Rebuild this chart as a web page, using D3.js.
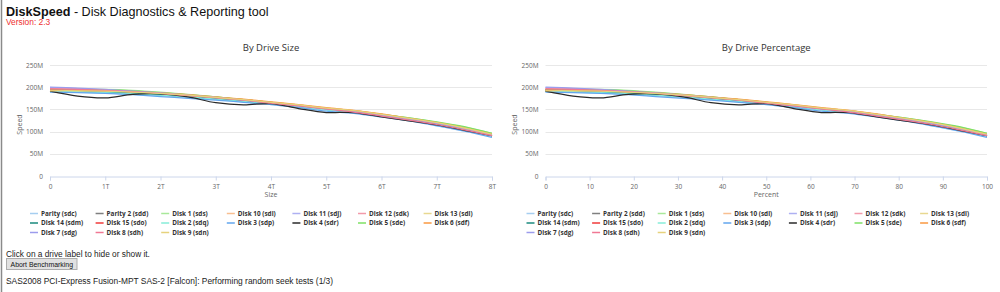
<!DOCTYPE html>
<html>
<head>
<meta charset="utf-8">
<script src="https://cdn.jsdelivr.net/npm/d3@7"></script>
<style>
  html, body { margin: 0; padding: 0; background: #fff; }
  svg { display: block; }
</style>
</head>
<body>
<svg width="1000" height="292"></svg>
<script>
// positions along the drive, in TB (every half terabyte)
const sizes = [0, 0.5, 1, 1.5, 2, 2.5, 3, 3.5, 4, 4.5, 5, 5.5, 6, 6.5, 7, 7.5, 8];
const driveCapacity = 8;

const drives = ["Parity (sdc)", "Parity 2 (sdd)", "Disk 1 (sds)", "Disk 10 (sdi)", "Disk 11 (sdj)", "Disk 12 (sdk)", "Disk 13 (sdl)",
    "Disk 14 (sdm)", "Disk 15 (sdo)", "Disk 2 (sdq)", "Disk 3 (sdp)", "Disk 4 (sdr)", "Disk 5 (sde)", "Disk 6 (sdf)",
    "Disk 7 (sdg)", "Disk 8 (sdh)", "Disk 9 (sdn)"];

const colors = ["#a6cef0", "#7f7f7f", "#a8e89a", "#f8bf90", "#aeb0f2", "#f29aaa", "#e8d890",
    "#1a8a7e", "#f03a3a", "#86ecd8", "#62a6ee", "#2a2a2a", "#7ee064", "#fa9840",
    "#9c9cec", "#f07894", "#e6d27c"];

// speeds in MB/s, one array per drive
const parity   = [190, 189, 187, 184, 181, 177, 173, 168, 162, 156, 150, 144, 136, 127, 116, 104, 90];
const parity2  = [193, 192, 190, 187, 184, 180, 175, 170, 164, 158, 151, 145, 137, 128, 117, 105, 91];
const disk1    = [194, 195, 195, 193, 189, 184, 178, 172, 166, 159, 152, 146, 139, 131, 121, 110, 96];
const disk10   = [192, 192, 191, 189, 186, 182, 177, 172, 166, 160, 153, 147, 139, 130, 120, 108, 94];
const disk11   = [199, 197, 194, 190, 186, 181, 176, 171, 165, 158, 151, 145, 137, 128, 118, 106, 92];
const disk12   = [196, 195, 193, 190, 186, 181, 176, 171, 165, 159, 152, 146, 137, 128, 118, 106, 92];
const disk13   = [193, 193, 192, 190, 187, 182, 177, 172, 166, 160, 153, 147, 139, 130, 120, 108, 94];
const disk14   = [192, 191, 189, 186, 183, 179, 174, 169, 163, 157, 150, 144, 136, 127, 117, 105, 91];
const disk15   = [195, 194, 193, 190, 186, 182, 177, 172, 165, 158, 151, 145, 136, 126, 116, 104, 91];
const disk2    = [191, 190, 188, 185, 182, 178, 173, 168, 162, 156, 149, 143, 135, 126, 116, 104, 90];
const disk3    = [189, 188, 186, 183, 179, 175, 171, 166, 161, 154, 146, 141, 133, 124, 113, 101, 87];
const disk4    = [191, 180, 176, 184, 185, 178, 165, 160, 163, 152, 143, 143, 133, 124, 115, 103, 91];
const disk5    = [194, 194, 194, 192, 188, 183, 178, 172, 166, 159, 152, 146, 139, 131, 122, 111, 96];
const disk6    = [193, 193, 192, 190, 187, 183, 178, 173, 167, 161, 154, 148, 140, 130, 120, 108, 94];
const disk7    = [200, 198, 195, 191, 187, 182, 177, 171, 165, 158, 151, 145, 137, 128, 118, 106, 92];
const disk8    = [196, 195, 193, 190, 186, 181, 176, 171, 164, 158, 151, 144, 135, 126, 116, 104, 91];
const disk9    = [192, 192, 191, 189, 186, 182, 177, 172, 166, 160, 153, 147, 139, 130, 120, 108, 94];

const speeds = [parity, parity2, disk1, disk10, disk11, disk12, disk13, disk14, disk15,
    disk2, disk3, disk4, disk5, disk6, disk7, disk8, disk9];

const speedTicks = [0, 50, 100, 150, 200, 250];
const sizeTicks = [0, 1, 2, 3, 4, 5, 6, 7, 8];
const percentTicks = [0, 10, 20, 30, 40, 50, 60, 70, 80, 90, 100];

const svg = d3.select("svg");
const chartFont = "'Open Sans', 'DejaVu Sans', sans-serif";
const pageFont = "'Liberation Sans', Arial, sans-serif";

// left page border
svg.append("line")
    .attr("x1", 1.5).attr("x2", 1.5).attr("y1", 0).attr("y2", 292)
    .attr("stroke", "#8a8a8a").attr("stroke-width", 1.5);

// page header
const head = svg.append("text")
    .attr("x", 6).attr("y", 15.5)
    .style("font", `12.6px ${pageFont}`)
    .attr("fill", "#111");
head.append("tspan").attr("font-weight", "bold").text("DiskSpeed");
head.append("tspan").text(" - Disk Diagnostics & Reporting tool");

svg.append("text")
    .attr("x", 6).attr("y", 25)
    .style("font", `8.4px ${pageFont}`)
    .attr("fill", "#ee3030")
    .text("Version: 2.3");

// one chart panel
const drawChart = (opts) => {
    const g = svg.append("g");
    const x = d3.scaleLinear().domain(opts.domain).range([opts.left, opts.right]);
    const y = d3.scaleLinear().domain([0, 250]).range([176, 65]);

    g.append("text")
        .attr("x", (opts.left + opts.right) / 2).attr("y", 50.5)
        .attr("text-anchor", "middle")
        .style("font", `9.5px ${chartFont}`)
        .attr("fill", "#333")
        .text(opts.title);

    // grid
    g.append("g")
        .selectAll("line")
        .data(speedTicks.slice(1))
        .enter().append("line")
            .attr("x1", opts.left).attr("x2", opts.right)
            .attr("y1", d => Math.round(y(d)) + 0.5).attr("y2", d => Math.round(y(d)) + 0.5)
            .attr("stroke", "#e8e8e8");

    // y axis labels
    const yAxis = g.append("g")
        .attr("transform", `translate(${opts.left - 7},0)`)
        .call(d3.axisLeft(y).tickValues(speedTicks).tickSize(0).tickPadding(0)
            .tickFormat(d => d === 0 ? "0" : d + "M"));
    yAxis.select(".domain").remove();
    yAxis.selectAll("text").style("font", `6.5px ${chartFont}`).attr("fill", "#666");

    g.append("text")
        .attr("transform", `translate(${opts.left - 28.5},${(y(0) + y(250)) / 2 + 4}) rotate(-90)`)
        .attr("text-anchor", "middle")
        .style("font", `7px ${chartFont}`)
        .attr("fill", "#666")
        .text("Speed");

    // x axis
    const xAxis = g.append("g")
        .attr("transform", `translate(0,${Math.round(y(0)) + 0.5})`)
        .call(d3.axisBottom(x).tickValues(opts.ticks).tickSize(4).tickPadding(4)
            .tickFormat(opts.format));
    xAxis.select(".domain").attr("stroke", "#ccd6eb");
    xAxis.selectAll(".tick line").attr("stroke", "#ccd6eb");
    xAxis.selectAll("text").style("font", `6.5px ${chartFont}`).attr("fill", "#666");

    g.append("text")
        .attr("x", (opts.left + opts.right) / 2).attr("y", 196.5)
        .attr("text-anchor", "middle")
        .style("font", `7px ${chartFont}`)
        .attr("fill", "#666")
        .text(opts.axisTitle);

    // series
    const line = d3.line()
        .x((d, i) => x(opts.pos(sizes[i])))
        .y(d => y(d))
        .curve(d3.curveCatmullRom.alpha(0.5));

    g.append("g")
        .attr("fill", "none")
        .attr("stroke-width", 1.25)
        .attr("stroke-linejoin", "round")
        .selectAll("path")
        .data(speeds)
        .enter().append("path")
            .attr("stroke", (d, i) => colors[i])
            .attr("d", line);

    // legend
    const legend = g.append("g")
        .selectAll("g")
        .data(drives)
        .enter().append("g")
            .attr("transform", (d, i) => `translate(${opts.legendX + (i % 7) * 65.6},${213.5 + Math.floor(i / 7) * 9.5})`);
    legend.append("line")
        .attr("x1", 0).attr("x2", 8)
        .attr("stroke-width", 1.5)
        .attr("stroke", (d, i) => colors[i]);
    legend.append("text")
        .attr("x", 11).attr("y", 2.3)
        .style("font", `bold 6.4px ${chartFont}`)
        .attr("fill", "#333")
        .text(d => d);
};

drawChart({
    title: "By Drive Size", axisTitle: "Size",
    left: 50, right: 492, legendX: 30,
    domain: [0, 8], ticks: sizeTicks,
    format: d => d === 0 ? "0" : d + "T",
    pos: s => s
});

drawChart({
    title: "By Drive Percentage", axisTitle: "Percent",
    left: 545.5, right: 987, legendX: 526.5,
    domain: [0, 100], ticks: percentTicks,
    format: d => d,
    pos: s => s / driveCapacity * 100
});

// footer
svg.append("text")
    .attr("x", 6).attr("y", 256.5)
    .style("font", `8.3px ${pageFont}`)
    .attr("fill", "#222")
    .text("Click on a drive label to hide or show it.");

svg.append("rect")
    .attr("x", 6.5).attr("y", 258.5).attr("width", 70.5).attr("height", 11)
    .attr("fill", "#e1e1e1").attr("stroke", "#adadad");
svg.append("text")
    .attr("x", 41.75).attr("y", 266.5)
    .attr("text-anchor", "middle")
    .style("font", `6.9px ${pageFont}`)
    .attr("fill", "#111")
    .text("Abort Benchmarking");

svg.append("text")
    .attr("x", 6).attr("y", 284)
    .style("font", `8.4px ${pageFont}`)
    .attr("fill", "#222")
    .text("SAS2008 PCI-Express Fusion-MPT SAS-2 [Falcon]: Performing random seek tests (1/3)");
</script>
</body>
</html>
